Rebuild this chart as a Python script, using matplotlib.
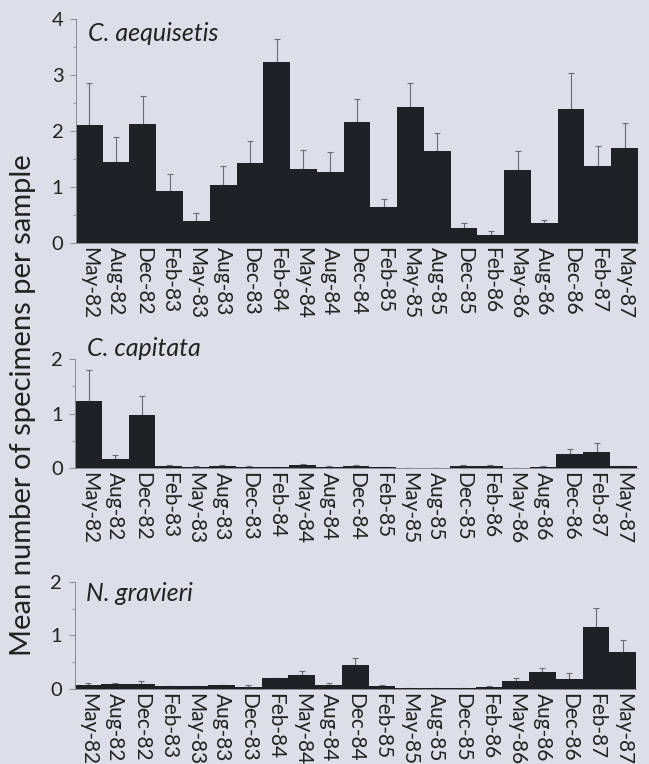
import numpy as np
import matplotlib
matplotlib.use("Agg")
from matplotlib import pyplot as plt
from matplotlib.ticker import MultipleLocator

plt.rcParams["font.family"] = ["Lato", "DejaVu Sans"]

dates = ["May-82", "Aug-82", "Dec-82", "Feb-83", "May-83", "Aug-83", "Dec-83",
         "Feb-84", "May-84", "Aug-84", "Dec-84", "Feb-85", "May-85", "Aug-85",
         "Dec-85", "Feb-86", "May-86", "Aug-86", "Dec-86", "Feb-87", "May-87"]

# C. aequisetis
aequisetis_mean = [2.10, 1.45, 2.12, 0.93, 0.39, 1.04, 1.43, 3.23, 1.33, 1.27, 2.16,
                   0.64, 2.43, 1.64, 0.26, 0.14, 1.30, 0.35, 2.39, 1.38, 1.70]
aequisetis_se = [0.76, 0.45, 0.51, 0.30, 0.14, 0.34, 0.40, 0.41, 0.33, 0.35, 0.41,
                 0.14, 0.42, 0.32, 0.09, 0.07, 0.34, 0.06, 0.64, 0.36, 0.44]

# C. capitata
capitata_mean = [1.23, 0.17, 0.97, 0.03, 0.01, 0.03, 0.01, 0.01, 0.05, 0.02, 0.04,
                 0.01, 0.00, 0.00, 0.03, 0.03, 0.00, 0.02, 0.26, 0.29, 0.03]
capitata_se = [0.57, 0.07, 0.35, 0.02, 0.02, 0.02, 0.02, 0.00, 0.02, 0.02, 0.02,
               0.01, 0.00, 0.00, 0.02, 0.02, 0.00, 0.02, 0.09, 0.17, 0.01]

# N. gravieri
gravieri_mean = [0.07, 0.09, 0.10, 0.05, 0.05, 0.07, 0.04, 0.20, 0.26, 0.08, 0.44,
                 0.05, 0.01, 0.01, 0.01, 0.04, 0.14, 0.31, 0.18, 1.15, 0.70]
gravieri_se = [0.05, 0.02, 0.05, 0.01, 0.01, 0.01, 0.04, 0.00, 0.08, 0.03, 0.13,
               0.02, 0.00, 0.00, 0.00, 0.01, 0.06, 0.09, 0.12, 0.37, 0.22]

BG = "#dcdfe8"
BAR = "#202027"
ERR = "#6a6a72"

fig = plt.figure(figsize=(6.49, 7.64), dpi=100, facecolor=BG)

panels = [
    ("C. aequisetis", aequisetis_mean, aequisetis_se, 4, [0.117, 0.682, 0.866, 0.293], 0.9375),
    ("C. capitata", capitata_mean, capitata_se, 2, [0.116, 0.3874, 0.865, 0.1427], 1.10),
    ("N. gravieri", gravieri_mean, gravieri_se, 2, [0.115, 0.0982, 0.865, 0.140], 0.89),
]

x = np.arange(len(dates))
for name, mean, se, ymax, rect, ty in panels:
    ax = fig.add_axes(rect)
    ax.set_facecolor(BG)
    ax.bar(x, mean, width=1.0, color=BAR, linewidth=0, zorder=2)
    ax.errorbar(x, mean, yerr=[np.zeros(len(se)), se], fmt="none",
                ecolor=ERR, elinewidth=0.8, capsize=2.5, capthick=0.8, zorder=1)
    ax.set_xlim(-0.5, len(dates) - 0.5)
    ax.set_ylim(0, ymax)
    ax.yaxis.set_major_locator(MultipleLocator(1))
    ax.yaxis.set_minor_locator(MultipleLocator(0.5))
    ax.tick_params(axis="y", which="major", length=4, width=0.7, color="#888888",
                   labelsize=14.5, pad=5, labelcolor="#222222")
    ax.tick_params(axis="y", which="minor", length=2.5, width=0.6, color="#888888")
    ax.set_xticks(x)
    ax.set_xticklabels(dates, rotation=270, fontsize=15, color="#222222")
    ax.tick_params(axis="x", length=0, pad=3)
    for s in ["top", "right"]:
        ax.spines[s].set_visible(False)
    ax.spines["left"].set_color("#8a8a90")
    ax.spines["left"].set_linewidth(0.7)
    ax.spines["bottom"].set_color("#8a8a90")
    ax.spines["bottom"].set_linewidth(0.7)
    ax.text(0.021, ty, name, transform=ax.transAxes, fontsize=18, style="italic",
            va="center", ha="left", color="#222222")

fig.text(0.036, 1 - 405 / 764, "Mean number of specimens per sample", rotation=90,
         fontsize=21, va="center", ha="center", color="#222222")

fig.savefig("out.png", dpi=100, facecolor=BG)
